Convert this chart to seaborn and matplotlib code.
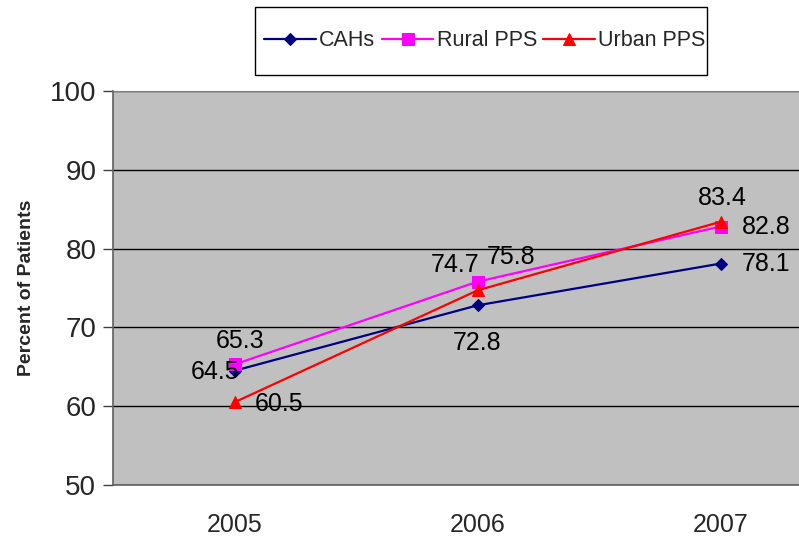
import numpy as np
import pandas as pd
import matplotlib
matplotlib.use("Agg")
import matplotlib.pyplot as plt
from matplotlib.patches import Rectangle
import seaborn as sns

# --- data ---
years = ["2005", "2006", "2007"]
cahs = [64.5, 72.8, 78.1]
rural_pps = [65.3, 75.8, 82.8]
urban_pps = [60.5, 74.7, 83.4]
series_names = ["CAHs", "Rural PPS", "Urban PPS"]

# styles
colors = ["#000080", "#FF00FF", "#FF0000"]
markers = ["D", "s", "^"]
msizes = [6, 8, 9]
# label offsets (points) per series / point
offsets = [
    [(-14, -1), (0, -27), (33, 0)],
    [(4, 17), (24, 18), (33, 0)],
    [(32, -1), (-16, 18), (1, 17)],
]

sns.set_style("white")
plt.rcParams["font.family"] = ["Liberation Sans", "DejaVu Sans"]

fig = plt.figure(figsize=(7.99, 5.39), dpi=100)
ax = fig.add_axes([113 / 799, 1 - 485 / 539, (842 - 113) / 799, (485 - 91) / 539])
ax.set_facecolor("#C0C0C0")

x = np.arange(len(years))
all_vals = [cahs, rural_pps, urban_pps]
for name, vals, c, m, ms in zip(series_names, all_vals, colors, markers, msizes):
    df = pd.DataFrame({"x": x, "y": vals})
    sns.lineplot(data=df, x="x", y="y", ax=ax, color=c, marker=m, markersize=ms,
                 markeredgecolor=c, linewidth=1.6, label=name, legend=False)

for vals, offs in zip(all_vals, offsets):
    for xi, v, off in zip(x, vals, offs):
        ax.annotate(f"{v:.1f}", (xi, v), xytext=off, textcoords="offset points",
                    ha="center", va="center", fontsize=18, color="black")

ax.set_xlim(-0.5, 2.5)
ax.set_ylim(50, 100)
ax.set_yticks([50, 60, 70, 80, 90, 100])
ax.yaxis.grid(True, color="black", linewidth=1)
ax.xaxis.grid(False)
ax.set_axisbelow(True)

ax.set_xticks(x)
ax.set_xticklabels(years)
ax.set_xticks([-0.5, 0.5, 1.5], minor=True)
ax.tick_params(axis="x", which="major", length=0, pad=20, labelsize=18)
ax.tick_params(axis="x", which="minor", length=8, width=1, color="#404040")
ax.tick_params(axis="y", length=7, width=1, color="#404040", pad=5, labelsize=20, left=True)

for s in ["left", "bottom"]:
    ax.spines[s].set_color("#606060")
    ax.spines[s].set_linewidth(1.2)
for s in ["top", "right"]:
    ax.spines[s].set_color("#808080")

ax.set_xlabel("")
ax.set_ylabel("Percent of Patients", fontsize=14, fontweight="bold", labelpad=11)

# legend box drawn separately (Excel style: wide vertical padding)
fig.patches.append(Rectangle((255 / 799, 1 - 75 / 539), 452 / 799, 68 / 539,
                             transform=fig.transFigure, facecolor="white",
                             edgecolor="black", linewidth=1.0, zorder=1))
handles, labels = ax.get_legend_handles_labels()
leg = fig.legend(handles, labels, loc="center", bbox_to_anchor=(485 / 799, 1 - 41 / 539),
                 ncol=3, fontsize=15.5, frameon=False,
                 handlelength=2.4, handletextpad=0.15, columnspacing=0.3, borderpad=0,
                 borderaxespad=0)

fig.savefig("out.png", dpi=100)
